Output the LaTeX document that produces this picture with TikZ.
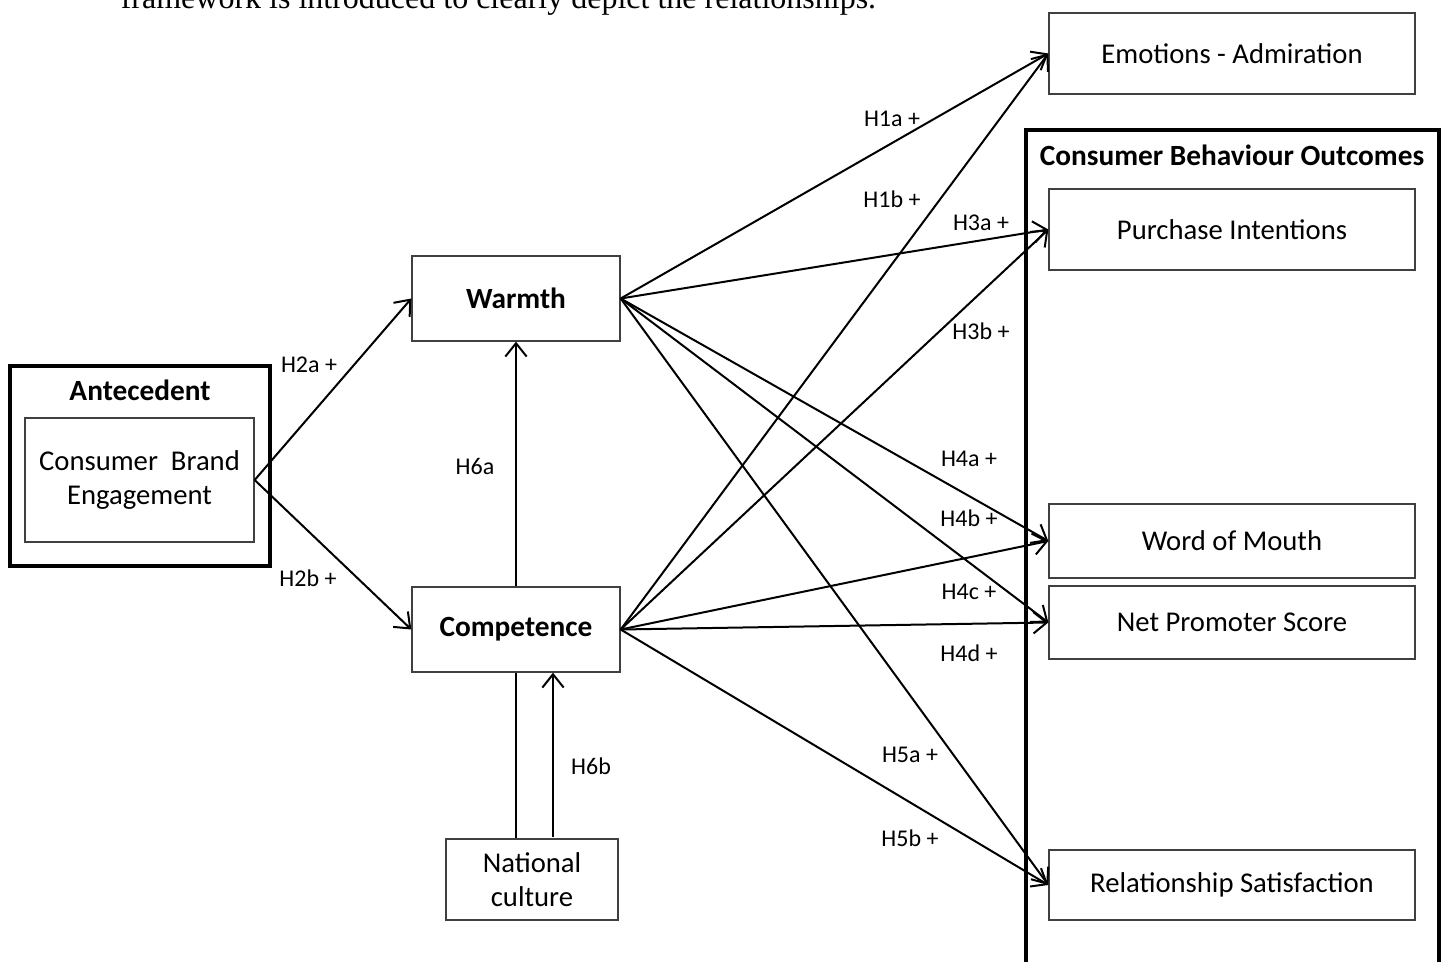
\documentclass[tikz,border=0pt]{standalone}
\usepackage{fontspec}
\setmainfont{Carlito}
\newfontfamily\timesfont{Liberation Serif}
\usetikzlibrary{arrows.meta}

\tikzset{every picture/.style={line width=1.2pt}}
\tikzset{
	box/.style={draw=black!75, line width=1pt, rectangle, align=center, inner sep=0pt, font=\fontsize{21.5}{26}\selectfont},
	boldbox/.style={box, font=\bfseries\fontsize{22}{26}\selectfont},
	groupbox/.style={draw, line width=2.4pt},
	grouptitle/.style={inner sep=0pt, font=\bfseries\fontsize{22}{26}\selectfont},
	link/.style={-{Straight Barb[length=10pt,width=16pt]}, line width=1.5pt},
	hyp/.style={inner sep=0pt, font=\fontsize{18}{21}\selectfont}}

\begin{document}
\begin{tikzpicture}[x=0.75pt,y=0.75pt,yscale=-1,xscale=1]
	\useasboundingbox (0,0) rectangle (1446,962);
	\clip (0,0) rectangle (1446,962);

	% Text Node
	\node [anchor=base west, inner sep=0pt, font=\timesfont\fontsize{24}{28}\selectfont] (intro) at (120,9) {framework is introduced to clearly depict the relationships.};

	%Shape: Rectangle
	\draw [groupbox] (10,366) rectangle (270,566);
	%Shape: Rectangle
	\draw [groupbox] (1026,130) rectangle (1439,1000);

	% Text Node
	\node [grouptitle] (antecedent) at (140,390) {Antecedent};
	% Text Node
	\node [grouptitle] (outcomes) at (1232,155) {Consumer Behaviour Outcomes};

	% boxes
	\node [box, minimum width=171.75pt, minimum height=93pt] (cbe) at (139.5,480) {Consumer\ \ Brand\\Engagement};
	\node [boldbox, minimum width=156pt, minimum height=63.75pt] (warmth) at (516,298.5) {Warmth};
	\node [boldbox, minimum width=156pt, minimum height=63.75pt] (comp) at (516,629.5) {Competence};
	\node [box, minimum width=129pt, minimum height=60.75pt] (natcult) at (532,879.5) {National\\culture};
	\node [box, minimum width=274.5pt, minimum height=60.75pt] (emotions) at (1232,53.5) {Emotions - Admiration};
	\node [box, minimum width=274.5pt, minimum height=60.75pt] (purchase) at (1232,229.5) {Purchase Intentions};
	\node [box, minimum width=274.5pt, minimum height=55.5pt] (wom) at (1232,541) {Word of Mouth};
	\node [box, minimum width=274.5pt, minimum height=54.75pt] (nps) at (1232,622.5) {Net Promoter Score};
	\node [box, minimum width=274.5pt, minimum height=52.5pt] (relsat) at (1232,885) {Relationship Satisfaction};

	% arrows
	\draw [link] (cbe.east) -- (warmth.west);
	\draw [link] (cbe.east) -- (comp.west);
	\draw [link] (comp.north) -- (warmth.south);
	\draw [line width=1.5pt] (comp.south |- natcult.north) -- (comp.south);
	\coordinate (modstart) at (553,837);
	\draw [link] (modstart) -- (modstart |- comp.south);

	\draw [link] (warmth.east) -- (emotions.west);
	\draw [link] (comp.east) -- (emotions.west);
	\draw [link] (warmth.east) -- (purchase.west);
	\draw [link] (comp.east) -- (purchase.west);
	\draw [link] (warmth.east) -- (wom.west);
	\draw [link] (warmth.east) -- (nps.west);
	\draw [link] (comp.east) -- (wom.west);
	\draw [link] (comp.east) -- (nps.west);
	\draw [link] (warmth.east) -- (relsat.west);
	\draw [link] (comp.east) -- (relsat.west);

	% Text Node
	\node [hyp] (h2a) at (309,365) {H2a +};
	\node [hyp] (h2b) at (308,578) {H2b +};
	\node [hyp] (h6a) at (475,466) {H6a};
	\node [hyp] (h6b) at (591,766) {H6b};
	\node [hyp] (h1a) at (892,119) {H1a +};
	\node [hyp] (h1b) at (892,199) {H1b +};
	\node [hyp] (h3a) at (981,223) {H3a +};
	\node [hyp] (h3b) at (981,331) {H3b +};
	\node [hyp] (h4a) at (969,459) {H4a +};
	\node [hyp] (h4b) at (969,518) {H4b +};
	\node [hyp] (h4c) at (969,592) {H4c +};
	\node [hyp] (h4d) at (969,653) {H4d +};
	\node [hyp] (h5a) at (910,755) {H5a +};
	\node [hyp] (h5b) at (910,838) {H5b +};

\end{tikzpicture}
\end{document}
